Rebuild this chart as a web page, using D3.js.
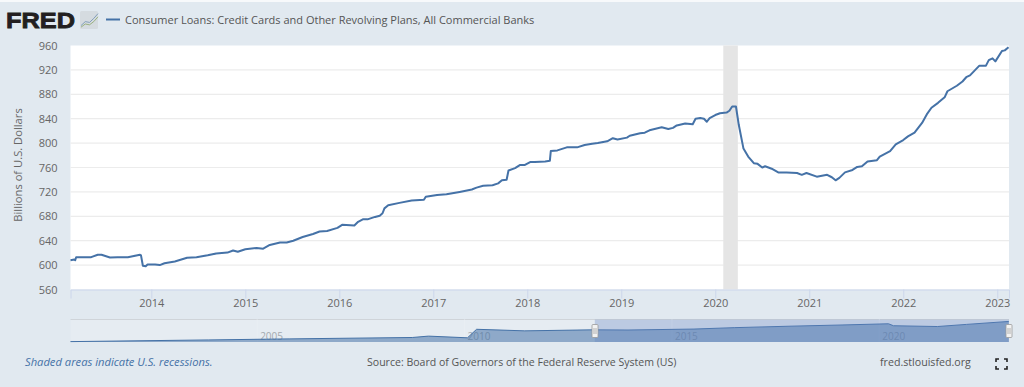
<!DOCTYPE html>
<html>
<head>
<meta charset="utf-8">
<script src="https://cdn.jsdelivr.net/npm/d3@7"></script>
<style>
html, body { margin: 0; padding: 0; background: #e1e9f0; overflow: hidden; }
svg { display: block; font-family: "Open Sans", sans-serif; }
</style>
</head>
<body>
<svg id="chart" width="1024" height="387"></svg>
<script>
// values
let years = [2013.14, 2013.18, 2013.19, 2013.2, 2013.36, 2013.43, 2013.47, 2013.56, 2013.64, 2013.75, 2013.88, 2013.89, 2013.91, 2013.94, 2013.96,
    2014.04, 2014.09, 2014.14, 2014.25, 2014.38, 2014.48, 2014.6, 2014.69, 2014.81, 2014.87, 2014.92,
    2015, 2015.12, 2015.19, 2015.26, 2015.37, 2015.44, 2015.51, 2015.61, 2015.72, 2015.79, 2015.87, 2015.98,
    2016.03, 2016.16, 2016.2, 2016.25, 2016.3, 2016.38, 2016.43, 2016.46, 2016.48, 2016.52, 2016.64, 2016.77, 2016.9, 2016.92,
    2017.04, 2017.14, 2017.28, 2017.41, 2017.46, 2017.53, 2017.63, 2017.69, 2017.73, 2017.78, 2017.8, 2017.87, 2017.92, 2017.97,
    2018.03, 2018.08, 2018.19, 2018.24, 2018.25, 2018.32, 2018.42, 2018.53, 2018.61, 2018.69, 2018.75, 2018.85, 2018.91, 2018.96,
    2019.06, 2019.09, 2019.2, 2019.25, 2019.3, 2019.43, 2019.5, 2019.55, 2019.59, 2019.68, 2019.76, 2019.79, 2019.84, 2019.88, 2019.91, 2019.94,
    2020, 2020.05, 2020.12, 2020.15, 2020.18, 2020.22, 2020.25, 2020.3, 2020.35, 2020.41, 2020.45, 2020.5, 2020.53, 2020.6, 2020.67, 2020.76, 2020.87, 2020.92, 2020.97,
    2021.08, 2021.19, 2021.24, 2021.28, 2021.32, 2021.38, 2021.46, 2021.51, 2021.56, 2021.62, 2021.72, 2021.75, 2021.86, 2021.92,
    2022, 2022.05, 2022.12, 2022.2, 2022.25, 2022.3, 2022.37, 2022.44, 2022.47, 2022.57, 2022.63, 2022.67, 2022.71, 2022.81, 2022.88, 2022.91, 2022.95, 2022.98,
    2023.05, 2023.08, 2023.12]
let loans = [608, 609, 608, 613, 613, 617, 617, 612.5, 613, 613, 617, 616, 599, 598, 601,
    601, 600, 603, 606, 612, 613, 616, 619, 620.5, 624, 622,
    626, 628, 627, 633, 637, 637, 640, 646, 651, 655, 656, 661,
    666, 665, 671, 675, 675, 679, 681, 685, 693, 698, 702, 706, 707, 712,
    715, 716, 720, 724, 727, 730, 731, 734, 739, 740, 755, 759, 764, 764,
    769, 769, 770, 771, 787, 788, 793, 793, 797, 799, 800, 803, 808, 806,
    809, 812, 816, 817, 821, 826, 823, 825, 829, 832, 831, 840, 841, 840, 835, 841,
    846, 849, 850, 853, 860, 860, 830, 791, 778, 767, 766, 760, 762, 758, 752, 752, 751, 748, 751,
    745, 748, 744, 739, 743, 752, 756, 761, 762, 770, 772, 778, 787, 798,
    805, 811, 817, 833, 847, 858, 866, 875, 885, 894, 901, 908, 911, 927, 927, 936, 939, 934,
    951, 952, 957]

let yTicks = [560, 600, 640, 680, 720, 760, 800, 840, 880, 920, 960]
let xTicks = [2014, 2015, 2016, 2017, 2018, 2019, 2020, 2021, 2022, 2023]
let recession = [2020.085, 2020.24]

// overview strip under the chart
let navYears = [2000.5, 2003.82, 2005.77, 2008.74, 2009.13, 2010.07, 2010.29, 2011.45, 2013.09, 2013.94, 2015.53, 2016.5, 2017.87, 2019.1, 2020.22, 2020.34, 2021.4, 2022.1, 2023.12]
let navValues = [116, 186, 230, 288, 345, 275, 630, 565, 608, 600, 640, 698, 760, 810, 860, 778, 745, 834, 957]
let navTicks = [2005, 2010, 2015, 2020]
let navSelected = [2013.14, 2023.125]

let blue = "#4572a7"
let svg = d3.select("#chart")

let pLeft = 70.5, pRight = 1009, pTop = 45.5, pBottom = 289.5

svg.append("rect").attr("width", 1024).attr("height", 2).attr("fill", "#f7f9fb")

let x = d3.scaleLinear().domain([2013.14, 2023.125]).range([pLeft, pRight])
let y = d3.scaleLinear().domain([560, 960]).range([pBottom, pTop])

svg.append("rect")
    .attr("x", pLeft).attr("y", pTop)
    .attr("width", pRight - pLeft).attr("height", pBottom - pTop)
    .attr("fill", "#fff")

// grid
svg.append("g").selectAll("line").data(yTicks.slice(1, -1)).join("line")
    .attr("x1", pLeft).attr("x2", pRight)
    .attr("y1", (d) => { return y(d) }).attr("y2", (d) => { return y(d) })
    .attr("stroke", "#ececec").attr("stroke-width", 1.2)

svg.append("rect")
    .attr("x", x(recession[0])).attr("y", pTop)
    .attr("width", x(recession[1]) - x(recession[0])).attr("height", pBottom - pTop)
    .attr("fill", "#e5e5e5")

// axes
let gx = svg.append("g")
    .attr("transform", "translate(0," + pBottom + ")")
    .call(d3.axisBottom(x).tickValues(xTicks).tickFormat(d3.format("d")).tickSizeOuter(0).tickSize(9).tickPadding(1))
gx.select(".domain").attr("stroke", "#ccd6eb")
gx.selectAll("line").attr("stroke", "#ccd6eb")
gx.selectAll("text").attr("fill", "#666").attr("font-size", 11).attr("font-family", "Open Sans")

let gy = svg.append("g")
    .attr("transform", "translate(" + pLeft + ",0)")
    .call(d3.axisLeft(y).tickValues(yTicks).tickSize(0).tickPadding(13))
gy.select(".domain").remove()
gy.selectAll("text").attr("fill", "#666").attr("font-size", 11).attr("font-family", "Open Sans")

svg.append("text")
    .attr("transform", "translate(22,165) rotate(-90)")
    .attr("text-anchor", "middle")
    .attr("font-size", 11.2)
    .attr("fill", "#666")
    .text("Billions of U.S. Dollars")

// series
let line = d3.line()
    .x((d, i) => { return x(years[i]) })
    .y((d) => { return y(d) })

svg.append("path")
    .datum(loans)
    .attr("d", line)
    .attr("fill", "none")
    .attr("stroke", blue)
    .attr("stroke-width", 2)
    .attr("stroke-linejoin", "round")

// logo
svg.append("text")
    .attr("x", 6).attr("y", 28)
    .attr("font-family", "Liberation Sans")
    .attr("font-weight", "bold")
    .attr("font-size", 22.5)
    .attr("fill", "#231f20")
    .attr("stroke", "#231f20")
    .attr("stroke-width", 0.8)
    .attr("textLength", 69)
    .attr("lengthAdjust", "spacingAndGlyphs")
    .text("FRED")

svg.append("rect")
    .attr("x", 80).attr("y", 11)
    .attr("width", 18).attr("height", 18).attr("rx", 1.5)
    .attr("fill", "#d5dbe0")

let logoLine = d3.line()
let logoX = d3.scaleLinear().domain([0, 4]).range([81, 98])
let logoY = d3.scaleLinear().domain([0, 10]).range([28, 12])
let logoBlue = [1.5, 4, 3.5, 6, 9]
let logoGreen = [0.5, 2.5, 2, 4, 7]
svg.append("path")
    .attr("d", logoLine(logoBlue.map((d, i) => [logoX(i), logoY(d)])))
    .attr("fill", "none").attr("stroke", "#6d8fb0").attr("stroke-width", 0.8)
svg.append("path")
    .attr("d", logoLine(logoGreen.map((d, i) => [logoX(i), logoY(d)])))
    .attr("fill", "none").attr("stroke", "#8aa66a").attr("stroke-width", 0.8)

// legend
svg.append("line")
    .attr("x1", 106).attr("x2", 120)
    .attr("y1", 19.5).attr("y2", 19.5)
    .attr("stroke", blue).attr("stroke-width", 2)

svg.append("text")
    .attr("x", 125).attr("y", 24)
    .attr("font-size", 11)
    .attr("fill", "#555")
    .text("Consumer Loans: Credit Cards and Other Revolving Plans, All Commercial Banks")

// overview strip
let navTop = 319.5, navBottom = 342
let navX = d3.scaleLinear().domain([2000.5, 2023.125]).range([pLeft, pRight])
let navY = d3.scaleLinear().domain([100, 1038]).range([navBottom, navTop])

svg.append("rect")
    .attr("x", pLeft).attr("y", navTop)
    .attr("width", navX(navSelected[0]) - pLeft).attr("height", navBottom - navTop)
    .attr("fill", "#e6ecf2")

svg.append("line")
    .attr("x1", pLeft).attr("x2", pRight)
    .attr("y1", navTop).attr("y2", navTop)
    .attr("stroke", "#cfd4d9")

let navAxis = svg.append("g").selectAll("g").data(navTicks).join("g")
navAxis.append("line")
    .attr("x1", (d) => { return navX(d) }).attr("x2", (d) => { return navX(d) })
    .attr("y1", navTop).attr("y2", navBottom)
    .attr("stroke", "#e9eef3")
navAxis.append("text")
    .attr("x", (d) => { return navX(d) + 3 })
    .attr("y", 340)
    .attr("font-size", 10)
    .attr("fill", "#a3a9ae")
    .text((d) => { return d })

let navArea = d3.area()
    .x((d, i) => { return navX(navYears[i]) })
    .y0(navBottom)
    .y1((d) => { return navY(d) })

svg.append("path")
    .datum(navValues)
    .attr("d", navArea)
    .attr("fill", blue)
    .attr("fill-opacity", 0.55)

svg.append("path")
    .datum(navValues)
    .attr("d", d3.line().x((d, i) => { return navX(navYears[i]) }).y((d) => { return navY(d) }))
    .attr("fill", "none")
    .attr("stroke", blue)
    .attr("stroke-width", 1)

svg.append("rect")
    .attr("x", navX(navSelected[0])).attr("y", navTop)
    .attr("width", navX(navSelected[1]) - navX(navSelected[0])).attr("height", navBottom - navTop)
    .attr("fill", "#6685c2")
    .attr("fill-opacity", 0.3)

let handles = svg.append("g").selectAll("g").data(navSelected).join("g")
    .attr("transform", (d) => { return "translate(" + Math.round(navX(d)) + ",331)" })
handles.append("rect")
    .attr("x", -3).attr("y", -6.5)
    .attr("width", 6).attr("height", 13).attr("rx", 1)
    .attr("fill", "#f2f2f2").attr("stroke", "#999").attr("stroke-width", 0.8)
handles.selectAll("line").data([-1, 1]).join("line")
    .attr("x1", (d) => d).attr("x2", (d) => d)
    .attr("y1", -3).attr("y2", 3)
    .attr("stroke", "#999").attr("stroke-width", 0.7)

// footer
svg.append("text")
    .attr("x", 25).attr("y", 366)
    .attr("font-size", 11.2)
    .attr("font-style", "italic")
    .attr("fill", blue)
    .text("Shaded areas indicate U.S. recessions.")

svg.append("text")
    .attr("x", 367).attr("y", 366)
    .attr("font-size", 10.55)
    .attr("fill", "#555")
    .text("Source: Board of Governors of the Federal Reserve System (US)")

svg.append("text")
    .attr("x", 880).attr("y", 366)
    .attr("font-size", 10.65)
    .attr("fill", "#555")
    .text("fred.stlouisfed.org")

// fullscreen icon
svg.append("path")
    .attr("d", "M996 362V359H999M1004 359H1007V362M1007 366V369H1004M999 369H996V366")
    .attr("fill", "none")
    .attr("stroke", "#222")
    .attr("stroke-width", 1.6)
</script>
</body>
</html>
